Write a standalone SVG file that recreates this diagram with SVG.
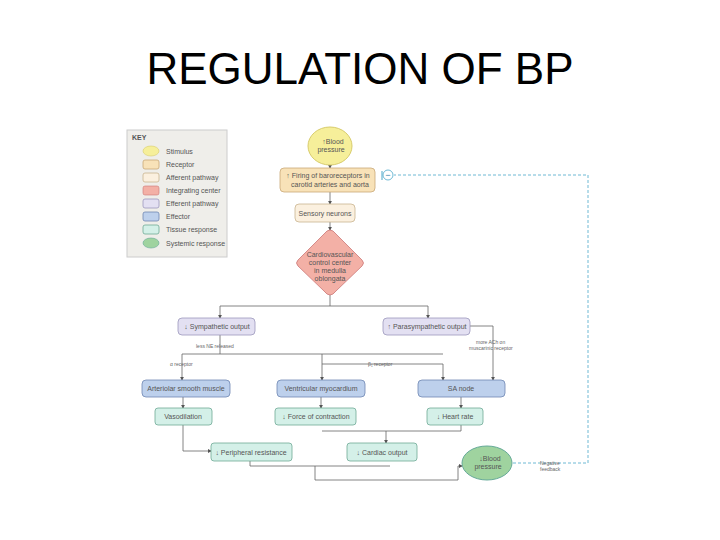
<svg xmlns="http://www.w3.org/2000/svg" width="720" height="540" viewBox="0 0 720 540">
<style>
text{font-family:"Liberation Sans",Arial,sans-serif;fill:#555}
.t{font-size:7px;text-anchor:middle}
.k{font-size:7px}
.s{font-size:5px;fill:#666}
.c{fill:none;stroke:#666;stroke-width:0.8}
.ar{fill:none;stroke:#666;stroke-width:0.8;marker-end:url(#a)}
.rec{fill:#f8e2b8;stroke:#c9a877;stroke-width:0.8}
.aff{fill:#fbf0df;stroke:#c9b48f;stroke-width:0.8}
.eff{fill:#e3e0f2;stroke:#9c98bd;stroke-width:0.8}
.eft{fill:#bdd0ec;stroke:#6f87b3;stroke-width:0.8}
.tis{fill:#d4f0e8;stroke:#6fa996;stroke-width:0.8}
</style>
<defs><marker id="a" markerWidth="5" markerHeight="5" refX="4" refY="2.5" orient="auto"><path d="M0,0L5,2.5L0,5z" fill="#555"/></marker></defs>
<text x="360" y="84" font-size="44" text-anchor="middle" style="fill:#000">REGULATION OF BP</text>
<g id="key">
<rect x="127" y="130" width="100" height="127" fill="#efeeea" stroke="#ccc"/>
<text x="132" y="140" class="k" font-weight="bold">KEY</text>
<ellipse cx="151" cy="151" rx="8" ry="5" fill="#f6ef9a" stroke="#d8cc6c" stroke-width="0.6"/><text x="166" y="154" class="k">Stimulus</text>
<rect x="143" y="160" width="16" height="9" rx="2" class="rec"/><text x="166" y="167" class="k">Receptor</text>
<rect x="143" y="173" width="16" height="9" rx="2" class="aff"/><text x="166" y="180" class="k">Afferent pathway</text>
<rect x="143" y="186" width="16" height="9" rx="2" fill="#f3b0a6" stroke="#c77" stroke-width="0.6"/><text x="166" y="193" class="k">Integrating center</text>
<rect x="143" y="199" width="16" height="9" rx="2" class="eff"/><text x="166" y="206" class="k">Efferent pathway</text>
<rect x="143" y="212" width="16" height="9" rx="2" class="eft"/><text x="166" y="219" class="k">Effector</text>
<rect x="143" y="225" width="16" height="9" rx="2" class="tis"/><text x="166" y="232" class="k">Tissue response</text>
<ellipse cx="151" cy="243" rx="8" ry="5" fill="#9fd39f" stroke="#6a9" stroke-width="0.6"/><text x="166" y="246" class="k">Systemic response</text>
</g>
<g id="connectors">
<path class="ar" d="M330,165V168"/>
<path class="ar" d="M330,192V204"/>
<path class="ar" d="M330,222V230"/>
<path class="c" d="M330,295V306M220,306H428"/>
<path class="ar" d="M220,306V318"/>
<path class="ar" d="M428,306V318"/>
<path class="c" d="M220,335V354M182,354H443M322,364H443"/>
<path class="ar" d="M182,354V380"/>
<path class="ar" d="M322,354V380"/>
<path class="ar" d="M443,364V380"/>
<path class="ar" d="M470,326H493V380"/>
<path class="ar" d="M183,397V408"/>
<path class="ar" d="M321,397V408"/>
<path class="ar" d="M461,397V408"/>
<path class="c" d="M461,425V431H322"/>
<path class="ar" d="M386,431V443"/>
<path class="ar" d="M183,425V451H211"/>
<path class="c" d="M250,461V466H390"/>
<path class="ar" d="M315,466V480H458V466H462"/>
<path fill="none" stroke="#4aa7c9" stroke-width="0.8" stroke-dasharray="3,2" d="M513,463H588V175H394"/>
<circle cx="388" cy="175" r="5" fill="#fff" stroke="#4aa7c9" stroke-width="0.8"/>
<text x="388" y="178" font-size="9" text-anchor="middle" style="fill:#2c7fa6">−</text>
<line x1="382" y1="171" x2="382" y2="180" stroke="#4aa7c9"/>
</g>
<g id="bp1"><ellipse cx="330" cy="146" rx="22" ry="19" fill="#f6ef9a" stroke="#d8cc6c"/><text x="333" y="144" class="t">↑Blood</text><text x="331" y="152" class="t">pressure</text></g>
<g id="baro"><rect x="280" y="168" width="95" height="24" rx="4" class="rec"/><text x="328" y="178" class="t">↑ Firing of baroreceptors in</text><text x="330" y="187" class="t">carotid arteries and aorta</text></g>
<g id="sensory"><rect x="295" y="204" width="60" height="18" rx="4" class="aff"/><text x="325" y="216" class="t">Sensory neurons</text></g>
<g id="cvc"><path d="M330,230Q333,230 336,234L362,260Q365,263 362,266L336,291Q333,295 330,295Q327,295 324,291L298,266Q295,263 298,260L324,234Q327,230 330,230Z" fill="#f3b0a6" stroke="#c77" stroke-width="0.8"/><text x="330" y="257" class="t">Cardiovascular</text><text x="330" y="265" class="t">control center</text><text x="330" y="273" class="t">in medulla</text><text x="330" y="281" class="t">oblongata</text></g>
<g id="symp"><rect x="178" y="318" width="77" height="17" rx="4" class="eff"/><text x="217" y="329" class="t">↓ Sympathetic output</text></g>
<g id="para"><rect x="383" y="318" width="87" height="17" rx="4" class="eff"/><text x="427" y="329" class="t">↑ Parasympathetic output</text></g>
<text x="196" y="348" class="s">less NE released</text>
<text x="170" y="366" class="s">α receptor</text>
<text x="368" y="366" class="s">β₁ receptor</text>
<text x="476" y="344" class="s">more ACh on</text>
<text x="469" y="350" class="s">muscarinic receptor</text>
<g id="arter"><rect x="142" y="380" width="88" height="17" rx="4" class="eft"/><text x="186" y="391" class="t">Arteriolar smooth muscle</text></g>
<g id="vent"><rect x="277" y="380" width="88" height="17" rx="4" class="eft"/><text x="321" y="391" class="t">Ventricular myocardium</text></g>
<g id="sa"><rect x="418" y="380" width="87" height="17" rx="4" class="eft"/><text x="461" y="391" class="t">SA node</text></g>
<g id="vaso"><rect x="155" y="408" width="57" height="17" rx="3" class="tis"/><text x="183" y="419" class="t">Vasodilation</text></g>
<g id="force"><rect x="275" y="408" width="81" height="17" rx="3" class="tis"/><text x="316" y="419" class="t">↓ Force of contraction</text></g>
<g id="hr"><rect x="427" y="408" width="56" height="17" rx="3" class="tis"/><text x="455" y="419" class="t">↓ Heart rate</text></g>
<g id="pr"><rect x="211" y="443" width="81" height="18" rx="3" class="tis"/><text x="251" y="455" class="t">↓ Peripheral resistance</text></g>
<g id="co"><rect x="347" y="443" width="70" height="18" rx="3" class="tis"/><text x="382" y="455" class="t">↓ Cardiac output</text></g>
<g id="bp2"><ellipse cx="487" cy="463" rx="25" ry="17" fill="#9fd39f" stroke="#6a9"/><text x="490" y="461" class="t">↓Blood</text><text x="488" y="469" class="t">pressure</text></g>
<text x="540" y="465" class="s">Negative</text><text x="540" y="471" class="s">feedback</text>
</svg>
